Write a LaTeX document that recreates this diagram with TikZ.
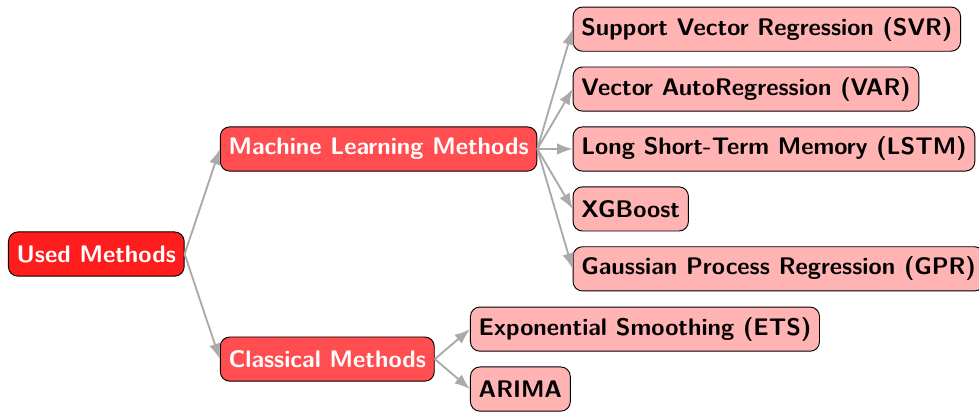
\documentclass[tikz,border=0pt]{standalone}
\usepackage{tikz}
\usetikzlibrary{arrows.meta,positioning}
\definecolor{usedred}{RGB}{255,28,28}
\definecolor{groupred}{RGB}{255,77,80}
\definecolor{leafred}{RGB}{255,179,179}
\definecolor{linkgray}{RGB}{170,170,170}

\begin{document}
\begin{tikzpicture}[>=Latex, node distance=15pt,
  every node/.style={font=\fontsize{10.2pt}{12pt}\selectfont\sffamily\bfseries},
  box/.style={draw,rounded corners=4pt,minimum height=18.8pt,inner xsep=3.5pt},
  rootbox/.style={box,fill=usedred,text=white},
  groupbox/.style={box,fill=groupred,text=white},
  leafbox/.style={box,fill=leafred,text=black},
  link/.style={->,draw=linkgray,line width=0.8pt}]
\useasboundingbox (0,0) rectangle (416.6pt,174.9pt);
\node[rootbox,anchor=west] (used) at (3.4pt,66.8pt) {Used Methods};
\node[groupbox,right=of used,yshift=44.7pt] (ml) {Machine Learning Methods};
\node[groupbox,right=of used,yshift=-44.7pt] (classic) {Classical Methods};
% machine learning leaves
\node[leafbox,right=of ml] (lstm) {Long Short-Term Memory (LSTM)};
\node[leafbox,above=6.3pt of lstm.north west,anchor=south west] (var) {Vector AutoRegression (VAR)};
\node[leafbox,above=6.3pt of var.north west,anchor=south west] (svr) {Support Vector Regression (SVR)};
\node[leafbox,below=6.3pt of lstm.south west,anchor=north west] (xgb) {XGBoost};
\node[leafbox,below=6.3pt of xgb.south west,anchor=north west] (gpr) {Gaussian Process Regression (GPR)};
% classical leaves
\node[leafbox,right=of classic,yshift=12.75pt] (ets) {Exponential Smoothing (ETS)};
\node[leafbox,below=6.3pt of ets.south west,anchor=north west] (arima) {ARIMA};
\draw[link] (used.east) -- (ml.west);
\draw[link] (used.east) -- (classic.west);
\foreach \leaf in {svr,var,lstm,xgb,gpr}
  \draw[link] (ml.east) -- (\leaf.west);
\foreach \leaf in {ets,arima}
  \draw[link] (classic.east) -- (\leaf.west);
\end{tikzpicture}
\end{document}
